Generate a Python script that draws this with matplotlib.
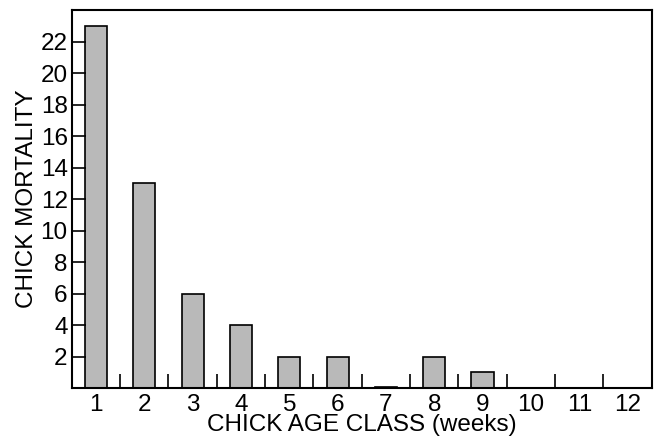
import matplotlib
matplotlib.use("Agg")
import matplotlib.pyplot as plt
import numpy as np

plt.rcParams['font.family'] = ['Liberation Sans', 'DejaVu Sans']

# chick age class (weeks) and mortality counts
age_class = [1, 2, 3, 4, 5, 6, 7, 8, 9, 10, 11, 12]
mortality = [23, 13, 6, 4, 2, 2, 0.1, 2, 1, 0, 0, 0]
y_ticks = [2, 4, 6, 8, 10, 12, 14, 16, 18, 20, 22]

fig = plt.figure(figsize=(6.59, 4.40), dpi=100)
ax = fig.add_axes([0.109, 0.118, 0.880, 0.859])

ax.bar(age_class, mortality, width=0.46, color='#b9b9b9', edgecolor='black', linewidth=1.2)

ax.set_xlim(0.5, 12.5)
ax.set_ylim(0, 24)
ax.set_xticks(age_class)
ax.set_xticks(np.arange(1.5, 12.5, 1), minor=True)
ax.set_yticks(y_ticks)

ax.tick_params(axis='x', which='major', length=0, labelsize=17.5, pad=4)
ax.tick_params(axis='x', which='minor', direction='in', length=10, width=1.2)
ax.tick_params(axis='y', which='major', direction='in', length=10, width=1.2, labelsize=17.5, pad=3)

for s in ax.spines.values():
    s.set_linewidth(1.5)

ax.set_xlabel('CHICK AGE CLASS (weeks)', fontsize=17.5, labelpad=-1)
ax.set_ylabel('CHICK MORTALITY', fontsize=17.5, labelpad=2)

fig.savefig('out.png', dpi=100)
